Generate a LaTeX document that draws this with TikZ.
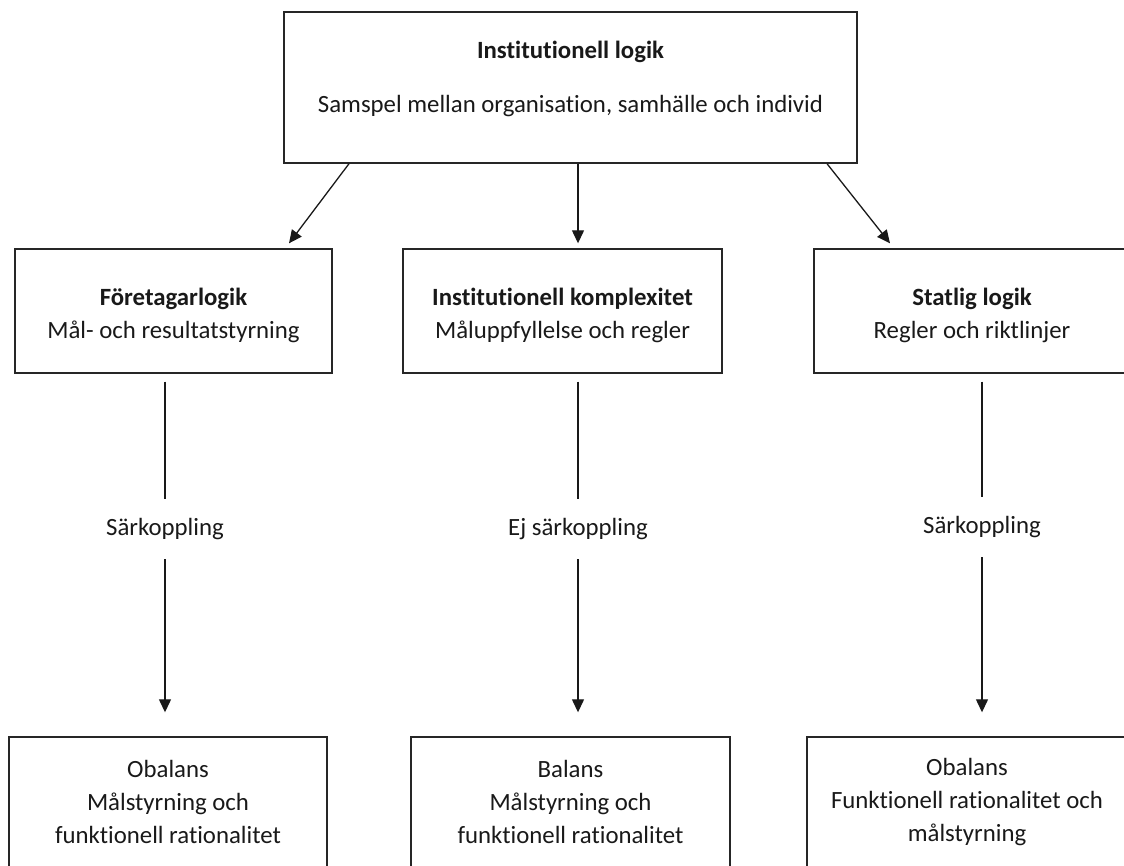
\documentclass[tikz,border=0pt]{standalone}
\usepackage{fontspec}
\setmainfont{Carlito}[Ligatures=NoCommon]
\usepackage{tikz}
\usetikzlibrary{arrows.meta, calc, positioning}

\begin{document}
\begin{tikzpicture}[x=0.5pt, y=-0.5pt,
        box/.style={draw=black!85, line width=0.7pt, rectangle, inner sep=0pt},
        txt/.style={align=center, text=black!90, font=\fontsize{12.4}{16.5}\selectfont, inner sep=0pt},
        lab/.style={txt, minimum height=30pt},
        ln/.style={line width=0.65pt, black!90},
        arr/.style={ln, -{Triangle[length=6.5pt, width=6pt]}}]
        \useasboundingbox (0,0) rectangle (1124,866);

        % Top box
        \node[box, minimum width=286.5pt, minimum height=75.5pt] (inst) at (570.5,87.5) {};
        \node[txt] (insttext) at (570.5,79) {\textbf{Institutionell logik}\\[10.5pt]
            Samspel mellan organisation, samhälle och individ};

        % Middle row
        \node[box, minimum width=158.5pt, minimum height=62pt] (foretag) at (173.5,311) {};
        \node[box, minimum width=159.5pt, minimum height=62pt] (komplex) at (562.5,311) {};
        \node[box, minimum width=158pt, minimum height=62pt] (statlig) at (972,311) {};
        \node[txt] (foretagtext) at (173.5,315) {\textbf{Företagarlogik}\\ Mål- och resultatstyrning};
        \node[txt] (komplextext) at (562.5,315) {\textbf{Institutionell komplexitet}\\ Måluppfyllelse och regler};
        \node[txt] (statligtext) at (972,315) {\textbf{Statlig logik}\\ Regler och riktlinjer};

        % Bottom row
        \node[box, minimum width=159pt, minimum height=71.5pt] (obalL) at (168,808.5) {};
        \node[box, minimum width=159.5pt, minimum height=71.5pt] (balans) at (570.5,808.5) {};
        \node[box, minimum width=160pt, minimum height=71.5pt] (obalR) at (967,808.5) {};
        \node[txt] (obalLtext) at (168,802) {Obalans\\ Målstyrning och\\ funktionell rationalitet};
        \node[txt] (balanstext) at (570.5,802) {Balans\\ Målstyrning och\\ funktionell rationalitet};
        \node[txt] (obalRtext) at (967,802) {Obalans\\ Funktionell rationalitet och\\ målstyrning};

        % Arrows from the top box
        \draw[arr] ($(inst.south)+(-221.5,0)$) -- ($(foretag.north)+(115.5,-5)$);
        \draw[arr] ($(inst.south)+(7.5,0)$) -- ($(komplex.north)+(15.5,-5)$);
        \draw[arr] ($(inst.south)+(256.5,0)$) -- ($(statlig.north)+(-82,-5)$);

        % Coupling labels
        \node[lab] (sarkL) at (165,529) {Särkoppling};
        \node[lab] (ejsark) at (578,529) {Ej särkoppling};
        \node[lab] (sarkR) at (982,527) {Särkoppling};

        % Vertical connectors
        \foreach \l/\u/\b in {sarkL/foretag/obalL, ejsark/komplex/balans, sarkR/statlig/obalR}
        {
            \draw[ln] ($(\u.south -| \l)+(0,8)$) -- (\l.north);
            \draw[arr] (\l.south) -- ($(\b.north -| \l)+(0,-24)$);
        }
    \end{tikzpicture}
\end{document}
